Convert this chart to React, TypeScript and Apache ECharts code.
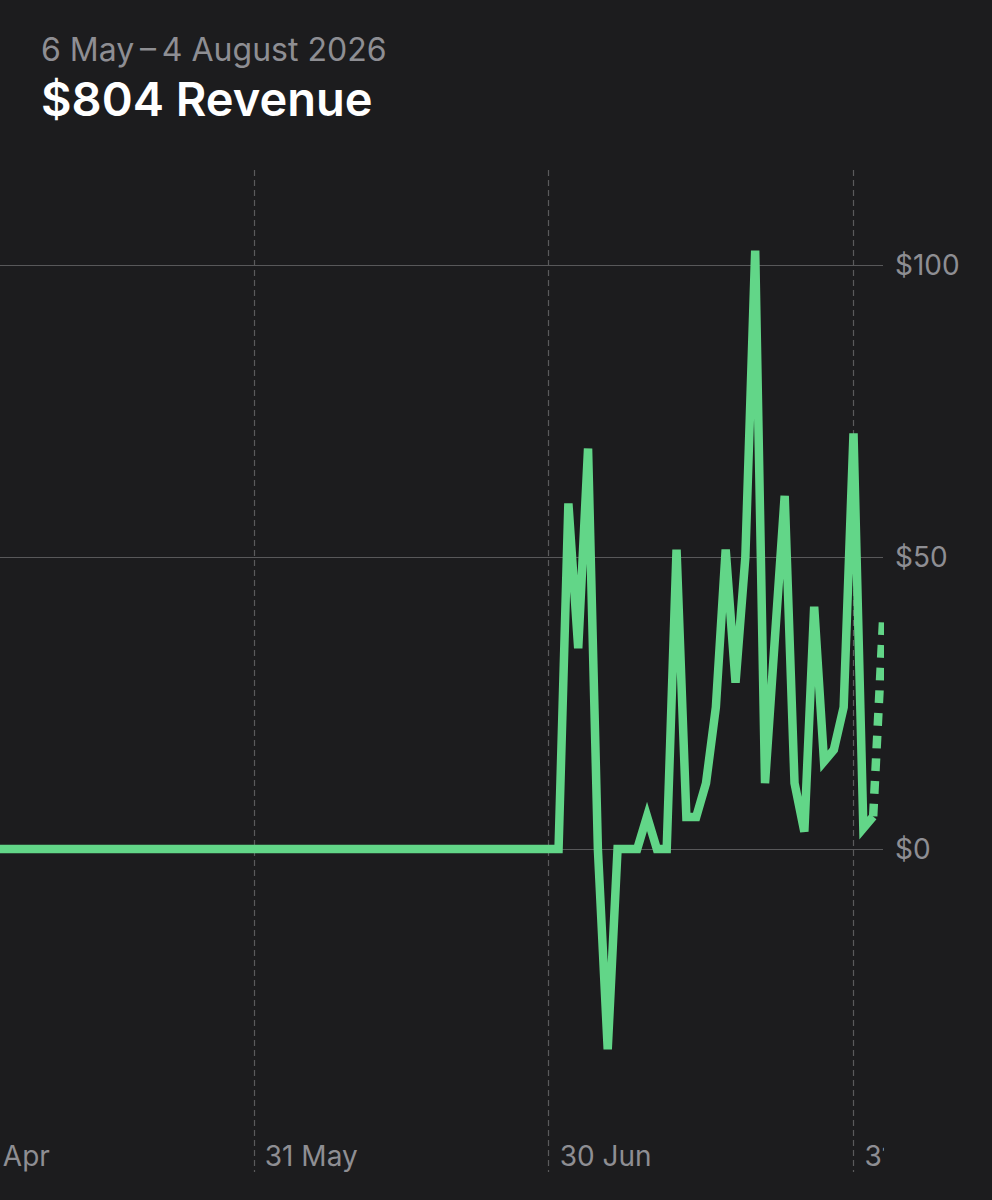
import React, { useEffect, useRef } from 'react';
import * as echarts from 'echarts';

const days = [
  '30 Apr',
  '1 May', '2 May', '3 May', '4 May', '5 May', '6 May', '7 May', '8 May', '9 May', '10 May',
  '11 May', '12 May', '13 May', '14 May', '15 May', '16 May', '17 May', '18 May', '19 May', '20 May',
  '21 May', '22 May', '23 May', '24 May', '25 May', '26 May', '27 May', '28 May', '29 May', '30 May', '31 May',
  '1 Jun', '2 Jun', '3 Jun', '4 Jun', '5 Jun', '6 Jun', '7 Jun', '8 Jun', '9 Jun', '10 Jun',
  '11 Jun', '12 Jun', '13 Jun', '14 Jun', '15 Jun', '16 Jun', '17 Jun', '18 Jun', '19 Jun', '20 Jun',
  '21 Jun', '22 Jun', '23 Jun', '24 Jun', '25 Jun', '26 Jun', '27 Jun', '28 Jun', '29 Jun', '30 Jun',
  '1 Jul', '2 Jul', '3 Jul', '4 Jul', '5 Jul', '6 Jul', '7 Jul', '8 Jul', '9 Jul', '10 Jul',
  '11 Jul', '12 Jul', '13 Jul', '14 Jul', '15 Jul', '16 Jul', '17 Jul', '18 Jul', '19 Jul', '20 Jul',
  '21 Jul', '22 Jul', '23 Jul', '24 Jul', '25 Jul', '26 Jul', '27 Jul', '28 Jul', '29 Jul', '30 Jul', '31 Jul',
  '1 Aug', '2 Aug', '3 Aug',
];

const revenue = [
  0,
  0, 0, 0, 0, 0, 0, 0, 0, 0, 0,
  0, 0, 0, 0, 0, 0, 0, 0, 0, 0,
  0, 0, 0, 0, 0, 0, 0, 0, 0, 0, 0,
  0, 0, 0, 0, 0, 0, 0, 0, 0, 0,
  0, 0, 0, 0, 0, 0, 0, 0, 0, 0,
  0, 0, 0, 0, 0, 0, 0, 0, 0, 0,
  0, 59.2, 34.4, 68.6, 0, -34.3, 0, 0, 0, 5.6,
  0, 0, 51.3, 5.5, 5.5, 11.3, 24.3, 51.3, 28.5, 50,
  102.5, 11.3, 36, 60.5, 11.3, 3, 41.5, 15, 17, 24.3, 71.2,
  3.6, 5.6, null,
];

// last day is still provisional, drawn dotted
const provisional = [
  ...days.slice(0, -2).map(() => null),
  5.6, 39,
];

const xTickDays = ['30 Apr', '31 May', '30 Jun', '31 Jul'];
const yTicks = [0, 50, 100];

const GREEN = '#62D688';
const BG = '#1C1C1E';
const GREY = '#8E8E93';

// the chart starts off screen so that 30 Apr is cut by the page edge
const OFFSCREEN = 51;

const isTickDay = (index: number) => xTickDays.includes(days[index]);

const App = () => {
  const chartRef = useRef<HTMLDivElement>(null);

  useEffect(() => {
    const myChart = echarts.init(chartRef.current, null, { renderer: 'svg' });

    myChart.setOption({
      animation: false,
      backgroundColor: BG,
      title: [
        {
          text: '6 May\u2009–\u20094 August 2026',
          left: 41 + OFFSCREEN,
          top: 33,
          padding: 0,
          textStyle: { color: GREY, fontFamily: 'Inter', fontSize: 32, fontWeight: 400 },
        },
        {
          text: '$804 Revenue',
          left: 41 + OFFSCREEN,
          top: 75,
          padding: 0,
          textStyle: { color: '#FFFFFF', fontFamily: 'Inter', fontSize: 47, fontWeight: 600 },
        },
      ],
      grid: { left: 0, right: 109, top: 170, bottom: 28 },
      xAxis: {
        type: 'category',
        data: days,
        boundaryGap: false,
        axisLine: { show: false },
        axisTick: { show: false },
        axisLabel: {
          inside: true,
          margin: 2,
          align: 'left',
          padding: [0, 0, 0, 11],
          color: GREY,
          fontFamily: 'Inter',
          fontSize: 28,
          interval: (index: number) => isTickDay(index),
        },
        splitLine: {
          show: true,
          interval: (index: number) => isTickDay(index),
          lineStyle: { color: '#5A5A5C', width: 1.2, type: [6, 4] },
        },
      },
      yAxis: {
        type: 'value',
        position: 'right',
        min: -55.3,
        max: 116.3,
        axisLine: { show: false },
        axisTick: { show: false, customValues: yTicks },
        axisLabel: {
          customValues: yTicks,
          margin: 12,
          color: GREY,
          fontFamily: 'Inter',
          fontSize: 28,
          formatter: (v: number) => `$${v}`,
        },
        splitLine: { show: true, lineStyle: { color: '#58585A', width: 1.2 } },
      },
      series: [
        {
          type: 'line',
          data: revenue,
          symbol: 'none',
          lineStyle: { color: GREEN, width: 8.5, cap: 'butt', join: 'miter', miterLimit: 4 },
        },
        {
          type: 'line',
          data: provisional,
          symbol: 'none',
          lineStyle: { color: GREEN, width: 8.5, type: [12.7, 10], cap: 'butt' },
        },
      ],
      graphic: [
        // the plot and the last date label stop dead at the right edge
        {
          type: 'rect',
          z: 100,
          shape: { x: 884 + OFFSCREEN, y: 170, width: 9, height: 1030 },
          style: { fill: BG },
        },
        {
          type: 'rect',
          z: 100,
          shape: { x: 884 + OFFSCREEN, y: 1120, width: 108, height: 80 },
          style: { fill: BG },
        },
      ],
    });

    return () => {
      myChart.dispose();
    };
  }, []);

  return (
    <div
      ref={chartRef}
      style={{ position: 'absolute', left: -OFFSCREEN, top: 0, width: 992 + OFFSCREEN, height: 1200 }}
    />
  );
};

export default App;
